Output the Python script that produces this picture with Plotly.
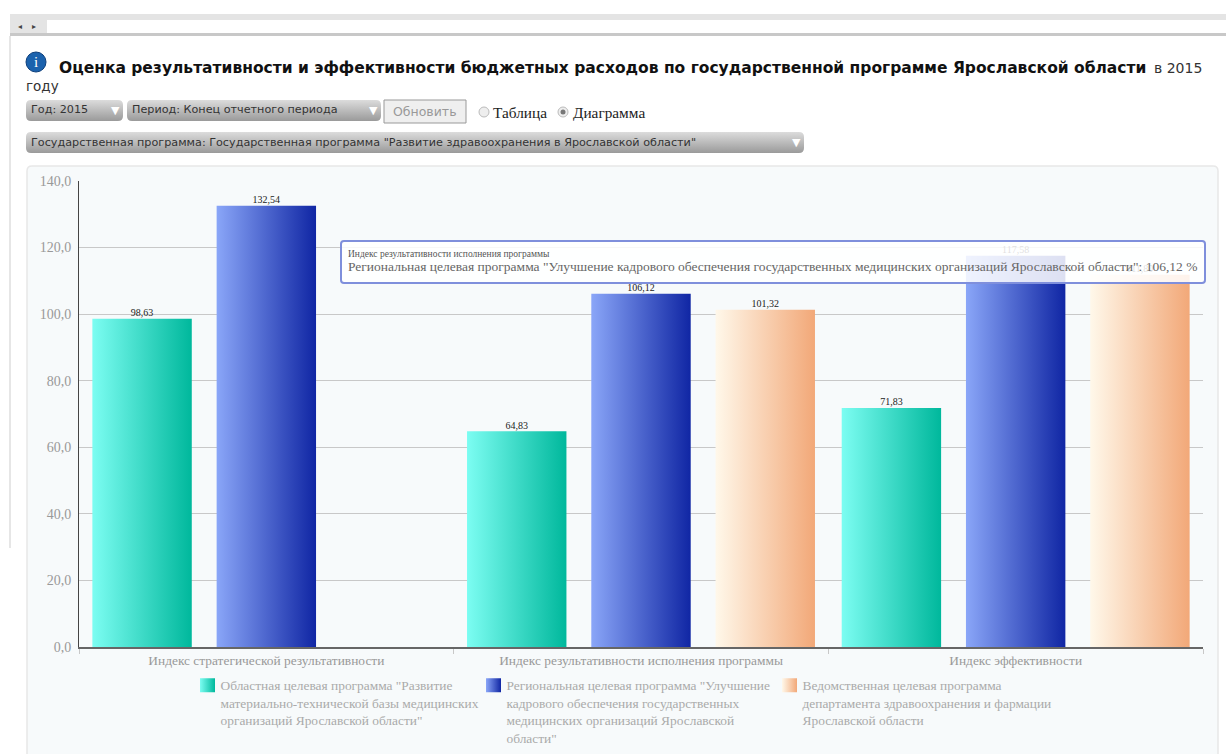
import plotly.graph_objects as go

categories = ["Индекс стратегической результативности",
              "Индекс результативности исполнения программы",
              "Индекс эффективности"]
series_names = [
    'Областная целевая программа "Развитие<br>материально-технической базы медицинских<br>организаций Ярославской области"',
    'Региональная целевая программа "Улучшение<br>кадрового обеспечения государственных<br>медицинских организаций Ярославской<br>области"',
    'Ведомственная целевая программа<br>департамента здравоохранения и фармации<br>Ярославской области',
]
values_regional = [98.63, 64.83, 71.83]
values_state = [132.54, 106.12, 117.58]
values_dept = [None, 101.32, 111.8]
solid_colors = ["#3fdcc8", "#4a66d0", "#f8d0b0"]

title_text = "Оценка результативности и эффективности бюджетных расходов по государственной программе Ярославской области"
tooltip_head = "Индекс результативности исполнения программы"
tooltip_body = 'Региональная целевая программа "Улучшение кадрового обеспечения государственных медицинских организаций Ярославской области": 106,12 %'

W, H = 1226, 754
L, R, T, B = 79, 1203, 181, 647
SERIF = "Liberation Serif"
SANS = "DejaVu Sans"


def px(x):
    return (x - L) / (R - L)


def py(y):
    return (B - y) / (B - T)


fig = go.Figure()
for name, vals, col in zip(series_names, [values_regional, values_state, values_dept], solid_colors):
    fig.add_trace(go.Bar(
        x=categories, y=vals, name=name, marker=dict(color=col, line=dict(width=0)),
        text=vals, texttemplate="%{y:.2f}", textposition="outside", cliponaxis=False,
        textfont=dict(family=SERIF, size=10, color="#222"), hoverinfo="skip"))

shapes = []


def rect(x0, y0, x1, y1, fill, line=None, lw=1, layer="below", r=0, opacity=1):
    if r:
        xa, xb, ya, yb = px(x0), px(x1), py(y0), py(y1)
        rx, ry = r / (R - L), r / (B - T)
        path = (f"M{xa+rx},{ya} L{xb-rx},{ya} Q{xb},{ya} {xb},{ya-ry} L{xb},{yb+ry} Q{xb},{yb} {xb-rx},{yb} "
                f"L{xa+rx},{yb} Q{xa},{yb} {xa},{yb+ry} L{xa},{ya-ry} Q{xa},{ya} {xa+rx},{ya} Z")
        shapes.append(dict(type="path", path=path, xref="paper", yref="paper", fillcolor=fill,
                           line=dict(color=line or fill, width=lw if line else 0), layer=layer, opacity=opacity))
    else:
        shapes.append(dict(type="rect", xref="paper", yref="paper", x0=px(x0), x1=px(x1), y0=py(y0), y1=py(y1),
                           fillcolor=fill, line=dict(color=line or fill, width=lw if line else 0),
                           layer=layer, opacity=opacity))


def circle(cx, cy, r, fill, line=None, lw=1):
    shapes.append(dict(type="circle", xref="paper", yref="paper", x0=px(cx - r), x1=px(cx + r),
                       y0=py(cy + r), y1=py(cy - r), fillcolor=fill,
                       line=dict(color=line or fill, width=lw if line else 0), layer="below"))


annos = []


def text(x, y, s, size=12, color="#333", family=SANS, anchor="left"):
    annos.append(dict(x=px(x), y=py(y), xref="paper", yref="paper", text=s, showarrow=False, xanchor=anchor,
                      yanchor="middle", borderpad=0, borderwidth=0,
                      font=dict(family=family, size=size, color=color)))


# browser chrome
rect(10, 14, W, 36, "#e4e4e4")
rect(47, 20, W, 33, "#ffffff")
rect(10, 33, W, 36, "#c8c8c8")
rect(9, 36, 11, 548, "#e6e6e6")
text(18, 26, "◂", 8, "#444")
text(32, 26, "▸", 8, "#444")
# chart panel
rect(27, 166, 1218, 770, "#f7fafb", "#e8e8e8", 1.5, r=5)
# info icon
circle(36, 62, 10, "#1b62ad", "#0d3f7c", 1)
text(36, 62, "i", 15, "#ffffff", SANS + " Bold", "center")
# title
annos.append(dict(x=px(57), y=py(68), xref="paper", yref="paper", text="<b>" + title_text + "</b>", showarrow=False,
                  xanchor="left", yanchor="middle", font=dict(family=SANS, size=15.5, color="#111")))
text(1154, 68, "в 2015", 14, "#333")
text(26, 86, "году", 13.5, "#333")
# controls
for x0, x1, y0, y1, label in [(26, 123, 100, 121, "Год: 2015"),
                              (127, 381, 100, 121, "Период: Конец отчетного периода"),
                              (26, 804, 132, 153, 'Государственная программа: Государственная программа "Развитие здравоохранения в Ярославской области"')]:
    rect(x0, y0, x1, y1, "#b5b5b6", r=5)
    text(x0 + 5, (y0 + y1) / 2 - 0.5, label, 11.2, "#333")
    text(x1 - 8, (y0 + y1) / 2, "▼", 11, "#ffffff", SANS, "center")
rect(384, 100, 466, 123, "#efefef", "#999999", 1)
text(425, 111.5, "Обновить", 12.5, "#999999", SANS, "center")
circle(484, 112, 5, "#eeeeee", "#bbbbbb", 1)
circle(563, 112, 5, "#eeeeee", "#bbbbbb", 1)
circle(563, 112, 2.5, "#777777")
text(493, 113, "Таблица", 15.3, "#222", SERIF)
text(573, 113, "Диаграмма", 15.3, "#222", SERIF)
# tooltip (drawn above the bars)
rect(341, 241, 1205, 283, "rgba(255,255,255,0.86)", "#7f8fdc", 2, layer="above", r=3)
text(348, 254, tooltip_head, 9.5, "#555", SERIF)
text(348, 266.5, tooltip_body, 13.5, "#666", SERIF)

fig.update_layout(
    width=W, height=H, margin=dict(l=L, r=W - R, t=T, b=H - B, pad=0),
    paper_bgcolor="#ffffff", plot_bgcolor="rgba(0,0,0,0)", separators=", ",
    barmode="group", bargap=0.005, bargroupgap=0.2, showlegend=True,
    shapes=shapes, annotations=annos,
    legend=dict(orientation="h", x=0.1, y=0.6,
                xanchor="left", yanchor="top", valign="top",
                font=dict(family=SERIF, size=13.4, color="#aaaaaa"), bgcolor="rgba(0,0,0,0)",
                traceorder="normal", tracegroupgap=0),
    xaxis=dict(type="category", tickson="boundaries", ticks="outside", ticklen=5, tickcolor="#c8c8c8",
               showline=True, linecolor="#666666", linewidth=2, showgrid=False,
               tickfont=dict(family=SERIF, size=13.4, color="#999999")),
    yaxis=dict(range=[0, 140], dtick=20, tickformat=".1f", showgrid=True, gridcolor="#c8c8c8", gridwidth=1,
               showline=True, linecolor="#444444", linewidth=1, zeroline=False, ticks="", ticklabelstandoff=4,
               tickfont=dict(family=SERIF, size=14, color="#999999")),
)

post = """
var gd = document.getElementById('{plot_id}');
document.body.style.margin = '0';
function paint() {
  var svg = gd.querySelector('.main-svg');
  var defs = svg.querySelector('defs');
  var NS = 'http://www.w3.org/2000/svg';
  function grad(id, c1, c2, vert) {
    if (document.getElementById(id)) return;
    var g = document.createElementNS(NS, 'linearGradient');
    g.setAttribute('id', id);
    g.setAttribute('x1', '0'); g.setAttribute('y1', '0');
    g.setAttribute('x2', vert ? '0' : '1'); g.setAttribute('y2', vert ? '1' : '0');
    [[0, c1], [1, c2]].forEach(function (s) {
      var st = document.createElementNS(NS, 'stop');
      st.setAttribute('offset', s[0]); st.setAttribute('stop-color', s[1]);
      g.appendChild(st);
    });
    defs.appendChild(g);
  }
  grad('gbar0', '#7cfdf2', '#00b89c');
  grad('gbar1', '#8aa6f8', '#1026a4');
  grad('gbar2', '#fff8ea', '#f2a878');
  grad('ggray', '#dcdcdc', '#9a9a9a', true);
  gd.querySelectorAll('.barlayer .trace').forEach(function (t, i) {
    t.querySelectorAll('.point path').forEach(function (p) { p.style.fill = 'url(#gbar' + i + ')'; });
    t.querySelectorAll('.bartext').forEach(function (b) { b.style.translate = '0 2.5px'; });
  });
  var gaps = [0, 286, 582];
  var textShift = [-7, -7, -7];
  gd.querySelectorAll('.legend .traces').forEach(function (t, i) {
    t.querySelectorAll('.legendpoints path').forEach(function (p) {
      p.style.fill = 'url(#gbar' + i + ')';
      p.setAttribute('d', 'M7.5,7H-7.5V-7H7.5Z');
    });
    var m = /translate\\(([-\\d.]+)[ ,]+([-\\d.]+)\\)/.exec(t.getAttribute('transform') || '');
    t.setAttribute('transform', 'translate(' + gaps[i] + ',' + (m ? m[2] : 0) + ')');
    var tx = t.querySelector('.legendtext');
    if (tx) tx.setAttribute('transform', 'translate(' + textShift[i] + ',0)');
  });
  var lg = gd.querySelector('.legend');
  if (lg) lg.setAttribute('transform', 'translate(187.5,670)');
  gd.querySelectorAll('.shapelayer path').forEach(function (p) {
    if (p.style.fill === 'rgb(181, 181, 182)') p.style.fill = 'url(#ggray)';
  });
}
paint();
gd.on('plotly_afterplot', paint);
"""

fig.write_html("out.html", post_script=post, config={"displayModeBar": False})
